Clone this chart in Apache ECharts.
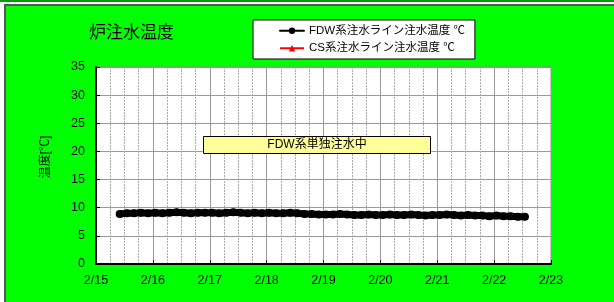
<!DOCTYPE html>
<html lang="ja">
<head>
    <meta charset="UTF-8">
    <title>炉注水温度</title>
    <script src="https://cdn.jsdelivr.net/npm/echarts@6/dist/echarts.min.js"></script>
    <style>
        html, body { margin: 0; padding: 0; background: #fff; }
        #main { width: 614px; height: 302px; }
    </style>
</head>
<body>
    <div id="main"></div>
    <script type="text/javascript">
        // 測定開始 2/15 09:00 から3時間おき
        var startTime = Date.UTC(2012, 1, 15, 10);
        var stepMs = 3 * 3600 * 1000;
        // FDW系注水ライン注水温度 ℃
        var fdwTemp = [
            8.9, 9.0, 9.0, 9.1, 9.0,
            9.1, 9.0, 9.1, 9.2, 9.1, 9.0, 9.1, 9.1,
            9.1, 9.0, 9.1, 9.2, 9.1, 9.0, 9.1, 9.0,
            9.1, 9.0, 9.0, 9.1, 9.0, 8.9, 8.9, 8.8,
            8.8, 8.8, 8.9, 8.8, 8.7, 8.7, 8.8, 8.7,
            8.7, 8.8, 8.7, 8.7, 8.8, 8.7, 8.6, 8.7,
            8.7, 8.8, 8.7, 8.6, 8.7, 8.6, 8.6, 8.5,
            8.6, 8.5, 8.5, 8.4, 8.4
        ];
        // CS系注水ライン注水温度 ℃ (データなし)
        var csTemp = [];
        var seriesNames = ['FDW系注水ライン注水温度 ℃', 'CS系注水ライン注水温度 ℃'];
        var xMin = Date.UTC(2012, 1, 15);
        var xMax = Date.UTC(2012, 1, 23);
        var dayMs = 86400000;

        var fdwData = [];
        for (var i = 0; i < fdwTemp.length; i++) {
            fdwData.push([startTime + i * stepMs, fdwTemp[i]]);
        }

        var font = 'Arial, "Liberation Sans", "Noto Sans CJK JP", sans-serif';
        var myChart = echarts.init(document.getElementById('main'));
        var option = {
            backgroundColor: '#fff',
            animation: false,
            textStyle: { fontFamily: font },
            title: {
                text: '炉注水温度',
                left: 84,
                top: 20,
                textStyle: { fontSize: 17, fontWeight: 'normal', color: '#000', fontFamily: font }
            },
            legend: {
                data: seriesNames,
                orient: 'vertical',
                left: 253,
                top: 20,
                width: 224,
                height: 37,
                padding: [5, 10, 5, 26],
                itemGap: 6,
                itemWidth: 24,
                itemHeight: 8,
                backgroundColor: '#fff',
                borderColor: '#000',
                borderWidth: 1,
                textStyle: { fontSize: 11.5, color: '#000', fontFamily: font }
            },
            graphic: [
                { type: 'rect', z: -10, shape: { x: 0, y: 0, width: 614, height: 2 }, style: { fill: '#00a000' } },
                { type: 'rect', z: -10, shape: { x: 5, y: 5, width: 620, height: 310 },
                  style: { fill: '#00ff00', stroke: '#555', lineWidth: 2 } },
                { type: 'text', x: 46, y: 157, rotation: Math.PI / 2,
                  style: { text: '温度[℃]', font: '12px ' + font, fill: '#000',
                           textAlign: 'center', textVerticalAlign: 'middle' } },
                { type: 'rect', z: 50, shape: { x: 203.5, y: 136.5, width: 227, height: 17 },
                  style: { fill: '#ffff99', stroke: '#000', lineWidth: 1 } },
                { type: 'text', z: 51, x: 317, y: 145,
                  style: { text: 'FDW系単独注水中', font: '12px ' + font, fill: '#000',
                           textAlign: 'center', textVerticalAlign: 'middle' } }
            ],
            grid: {
                left: 96,
                right: 63,
                top: 67,
                bottom: 38,
                show: true,
                backgroundColor: '#fff',
                borderColor: '#888',
                borderWidth: 1
            },
            xAxis: {
                type: 'value',
                min: xMin,
                max: xMax,
                interval: dayMs,
                axisLine: { show: true, lineStyle: { color: '#000', width: 2 } },
                axisTick: { show: true, inside: true, length: 4, lineStyle: { color: '#000' } },
                axisLabel: {
                    fontSize: 12.5, color: '#000', margin: 10,
                    formatter: function (v) {
                        var d = new Date(v);
                        return (d.getUTCMonth() + 1) + '/' + d.getUTCDate();
                    }
                },
                splitLine: { show: true, lineStyle: { color: '#999', width: 1 } },
                minorTick: { show: false, splitNumber: 4 },
                minorSplitLine: { show: true, lineStyle: { color: '#aaa', type: [2, 1], width: 1 } }
            },
            yAxis: {
                type: 'value',
                min: 0,
                max: 35,
                interval: 5,
                axisLine: { show: true, lineStyle: { color: '#000', width: 2 } },
                axisTick: { show: true, inside: true, length: 4, lineStyle: { color: '#000' } },
                axisLabel: { fontSize: 12.5, color: '#000', margin: 11 },
                splitLine: { show: true, lineStyle: { color: '#999', width: 1 } }
            },
            series: [
                {
                    name: seriesNames[0],
                    type: 'line',
                    data: fdwData,
                    symbol: 'circle',
                    symbolSize: 8,
                    itemStyle: { color: '#000' },
                    lineStyle: { color: '#000', width: 7, cap: 'round', join: 'round' }
                },
                {
                    name: seriesNames[1],
                    type: 'line',
                    data: csTemp,
                    symbol: 'triangle',
                    symbolSize: 8,
                    itemStyle: { color: '#ff0000' },
                    lineStyle: { color: '#ff0000', width: 2 }
                }
            ]
        };
        myChart.setOption(option);
    </script>
</body>
</html>
